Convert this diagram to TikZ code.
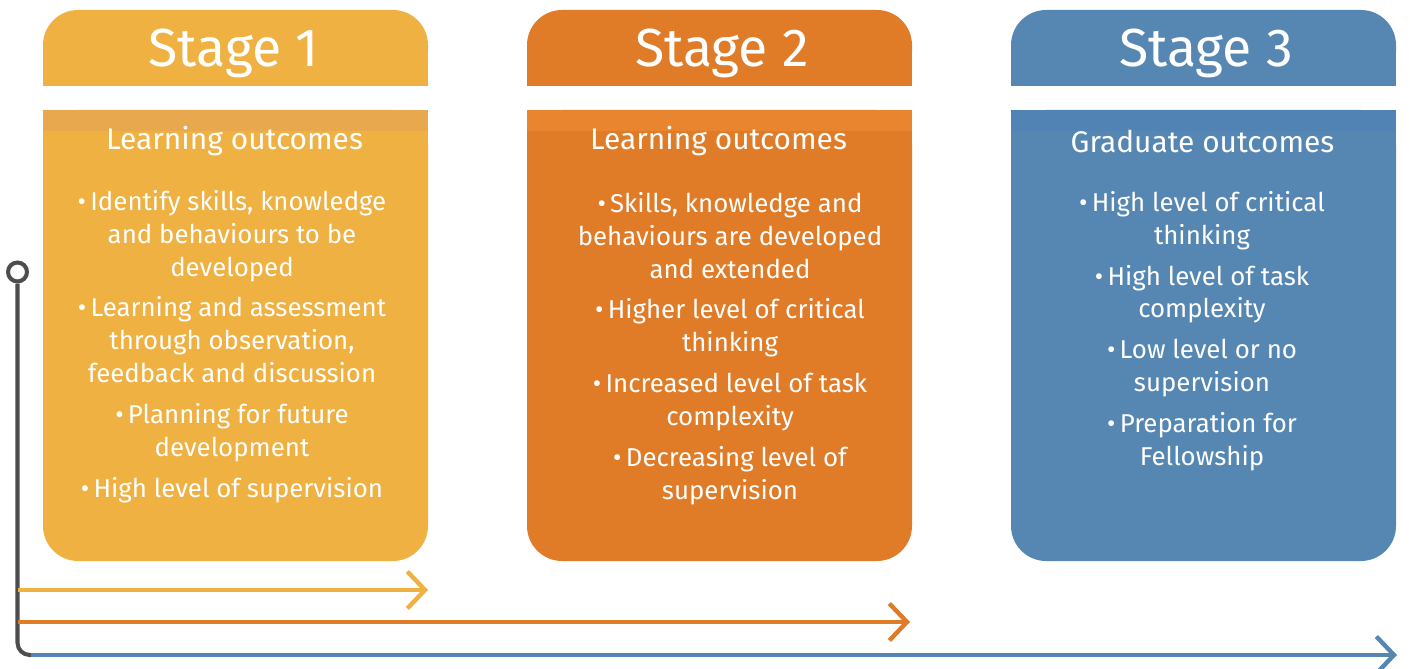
\documentclass[tikz,border=0pt]{standalone}
\usepackage{fontspec}
\setmainfont{Fira Sans}
\usetikzlibrary{arrows.meta}

\definecolor{stageyellow}{HTML}{EEB142}
\definecolor{stripyellow}{HTML}{E8A84E}
\definecolor{stageorange}{HTML}{E07B27}
\definecolor{striporange}{HTML}{E8852E}
\definecolor{stageblue}{HTML}{5587B2}
\definecolor{stripblue}{HTML}{5283B5}
\definecolor{linegray}{HTML}{4D4D4D}

\tikzset{
  stagehead/.style={text=white, font=\fontsize{30.5}{36}\selectfont},
  outcomehead/.style={text=white, font=\fontsize{17}{20}\selectfont},
  outcomelist/.style={text=white, align=center, anchor=north, inner sep=0pt,
    font=\fontsize{14.7}{18.7}\selectfont},
  timeline/.style={line width=2.5pt, -{Straight Barb[length=10pt, width=21pt]}},
  ring/.style={circle, draw=linegray, line width=2.3pt, fill=white,
    minimum size=10.8pt, inner sep=0pt}
}

\begin{document}
\begin{tikzpicture}[x=0.02cm, y=-0.02cm]
	\useasboundingbox (0,0) rectangle (1410,669);
	% the three panels
	\foreach \px/\col/\strip in {43/stageyellow/stripyellow, 527/stageorange/striporange, 1011/stageblue/stripblue} {
		\fill[\col, rounded corners=20pt] (\px,10) rectangle ++(385,76);
		\fill[\col] (\px,50) rectangle ++(385,36);
		\fill[\col, rounded corners=20pt] (\px,110) rectangle ++(385,451);
		\fill[\col] (\px,110) rectangle ++(385,200);
		\fill[\strip] (\px,110) rectangle ++(385,21);
	}
	\node[stagehead] (stage1) at (233.5,53) {Stage 1};
	\node[stagehead] (stage2) at (722,53) {Stage 2};
	\node[stagehead] (stage3) at (1206,53) {Stage 3};
	\node[outcomehead] (head1) at (234.5,141) {Learning outcomes};
	\node[outcomehead] (head2) at (718.5,141) {Learning outcomes};
	\node[outcomehead] (head3) at (1202.5,141) {Graduate outcomes};
	\node[outcomelist] (list1) at (232,190) {%
		•\,Identify skills, knowledge\\ and behaviours to be\\ developed\\[4.5pt]
		•\,Learning and assessment\\ through observation,\\ feedback and discussion\\[4.5pt]
		•\,Planning for future\\ development\\[4.5pt]
		•\,High level of supervision};
	\node[outcomelist] (list2) at (730,192) {%
		•\,Skills, knowledge and\\ behaviours are developed\\ and extended\\[4.5pt]
		•\,Higher level of critical\\ thinking\\[4.5pt]
		•\,Increased level of task\\ complexity\\[4.5pt]
		•\,Decreasing level of\\ supervision};
	\node[outcomelist] (list3) at (1202,191) {%
		•\,High level of critical\\ thinking\\[4.5pt]
		•\,High level of task\\ complexity\\[4.5pt]
		•\,Low level or no\\ supervision\\[4.5pt]
		•\,Preparation for\\ Fellowship};
	% timeline
	\node[ring] (start) at (17.5,272) {};
	\coordinate (corner) at (17.5,655);
	\coordinate (blue0) at (31,655);
	\coordinate (blue1) at (1397,655);
	\coordinate (yellow0) at (17.5,590);
	\coordinate (yellow1) at (428,590);
	\coordinate (orange0) at (17.5,622);
	\coordinate (orange1) at (910,622);
	\draw[linegray, line width=2.3pt, rounded corners=7pt] (start.south) -- (corner) -- (blue0);
	\draw[timeline, stageyellow] (yellow0) -- (yellow1);
	\draw[timeline, stageorange] (orange0) -- (orange1);
	\draw[timeline, stageblue] (blue0) -- (blue1);
\end{tikzpicture}
\end{document}
